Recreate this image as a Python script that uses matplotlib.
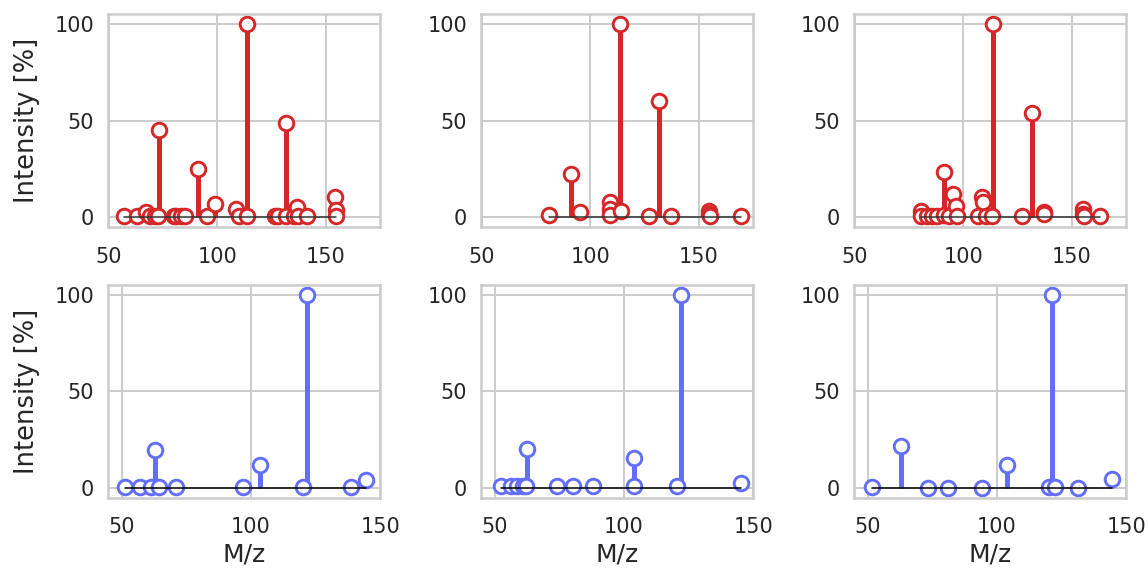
import matplotlib
matplotlib.use("Agg")
import matplotlib.pyplot as plt
import seaborn as sns
import numpy as np

# top row (red) spectra
top1_mz = [57, 63, 67, 69, 71, 72.6, 73, 80, 81, 83, 85, 91, 95, 99, 108.6, 110, 113.4, 113.8,
           126.5, 128, 131.5, 131.8, 135.3, 136.6, 137, 141.4, 154.4, 154.5, 154.6]
top1_int = [1, 0.5, 2.7, 1, 1, 1, 45, 1, 1, 0.8, 1, 25, 1, 7, 4.5, 1, 1, 100,
            1, 0.8, 1, 49, 1, 5.5, 1, 1, 10.5, 4, 1]

top2_mz = [81, 90.8, 95, 108.8, 109, 109.2, 113.8, 114, 127, 131.8, 137.3, 154.6, 154.8, 155, 169.3]
top2_int = [1.4, 22.5, 2.7, 7.9, 4.5, 1.5, 100, 3.3, 1, 60, 1, 3.6, 2, 1, 1]

top3_mz = [80.2, 80.5, 83, 85.5, 88, 90.9, 91.1, 93.5, 95, 96.6, 96.8, 106.6, 108.5, 108.8,
           110.5, 113.3, 113.6, 126.8, 131.6, 137, 137.2, 155, 155.2, 155.4, 162.8]
top3_int = [3.3, 1, 1, 1, 1, 23.5, 1.5, 1, 12, 5.7, 1, 1, 10.5, 7.9,
            1, 1, 100, 1, 54, 2.7, 2, 4.5, 2, 0.5, 1]

# bottom row (blue) spectra
bot1_mz = [51.4, 57.1, 61.4, 62.9, 64.6, 71, 96.8, 103.6, 120.3, 121.6, 138.6, 144.4]
bot1_int = [0.7, 0.7, 0.7, 19.7, 0.7, 0.7, 0.7, 11.9, 0.7, 100, 0.7, 4.5]

bot2_mz = [52.3, 56.2, 58.8, 60.8, 62.1, 62.7, 74.2, 80.2, 88, 103.8, 104, 120.7, 122, 145.2]
bot2_int = [1.2, 1.2, 1.2, 1.2, 1.2, 20.5, 1.2, 1.2, 1.2, 15.7, 1.2, 1.2, 100, 2.9]

bot3_mz = [51.7, 63, 73.5, 80.9, 94.4, 103.8, 120.3, 121.5, 122.6, 131.4, 144.4]
bot3_int = [0.5, 21.9, 0.3, 0.3, 0.3, 11.9, 0.5, 100, 0.5, 0.3, 4.7]

RED = "#d62728"
BLUE = "#636efa"


def stem_panel(ax, mz, inten, color, base="black"):
    """
    Draws one spectrum as a stem plot with open circle markers
    """
    markerline, stemlines, baseline = ax.stem(mz, inten)
    plt.setp(stemlines, color=color, linewidth=3.6)
    plt.setp(markerline, color=color, markerfacecolor="white", markeredgecolor=color,
             markersize=10.5, markeredgewidth=2.1)
    plt.setp(baseline, color=base, linewidth=1.1)


sns.set_theme(style="whitegrid", rc={"grid.color": "#cccccc", "axes.edgecolor": "#cccccc",
                                     "axes.linewidth": 1.8, "grid.linewidth": 1.4})
plt.rcParams['font.family'] = ['DejaVu Sans']

fig, axes = plt.subplots(2, 3, figsize=(11.48, 5.71), dpi=100)
fig.subplots_adjust(left=0.094, right=0.981, top=0.975, bottom=0.128, wspace=0.37, hspace=0.272)

tops = [(top1_mz, top1_int), (top2_mz, top2_int), (top3_mz, top3_int)]
bots = [(bot1_mz, bot1_int), (bot2_mz, bot2_int), (bot3_mz, bot3_int)]

for i in range(3):
    stem_panel(axes[0, i], tops[i][0], tops[i][1], RED, base="#333333")
    axes[0, i].set_xlim(49.5, 175)
    stem_panel(axes[1, i], bots[i][0], bots[i][1], BLUE)
    axes[1, i].set_xlim(44.7, 150)
    axes[1, i].set_xlabel("M/z", fontsize=18, color="#262626", labelpad=4)

for ax in axes.flat:
    ax.set_ylim(-5, 105)
    ax.set_xticks([50, 100, 150])
    ax.set_yticks([0, 50, 100])
    ax.tick_params(labelsize=15, colors="#262626")
    ax.tick_params(axis="x", pad=8)
    ax.tick_params(axis="y", pad=4)

for ax in axes[:, 0]:
    ax.set_ylabel("Intensity [%]", fontsize=18.5, color="#262626", labelpad=10)

plt.savefig("out.png")
